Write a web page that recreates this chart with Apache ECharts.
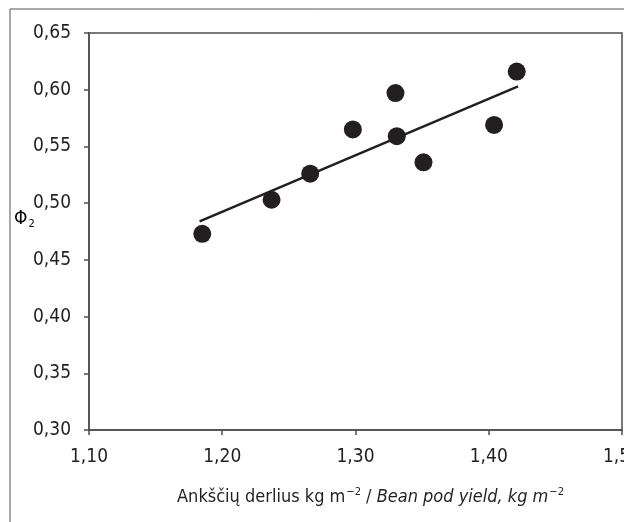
<!DOCTYPE html>
<html>
<head>
<meta charset="utf-8">
<script src="https://cdn.jsdelivr.net/npm/echarts@6/dist/echarts.min.js"></script>
<style>
  html, body { margin: 0; padding: 0; background: #fff; }
  #chart { width: 624px; height: 522px; }
</style>
</head>
<body>
<div id="chart"></div>
<script>
// pod yield (x) vs Phi2 (y)
let yieldVals = [1.185, 1.237, 1.266, 1.298, 1.330, 1.331, 1.351, 1.404, 1.421];
let phiVals   = [0.473, 0.503, 0.526, 0.565, 0.597, 0.559, 0.536, 0.569, 0.616];

// trend line ends
let trendX = [1.183, 1.422];
let trendY = [0.484, 0.603];

let ink = '#231f20';
let axisCol = '#4d4d4d';
let font = '"Liberation Sans Narrow", "DejaVu Sans Condensed", sans-serif';

function comma(v){
    return v.toFixed(2).replace('.', ',');
}

let chart = echarts.init(document.getElementById('chart'));
let option = {
    animation: false,
    textStyle: { fontFamily: font, color: ink },
    grid: {
        left: 89,
        right: 2,
        top: 33,
        bottom: 92,
        outerBoundsMode: 'none',
        containLabel: false,
        show: true,
        borderColor: axisCol,
        borderWidth: 1.5
    },
    graphic: [
        {
            type: 'rect',
            shape: { x: 10, y: 9, width: 700, height: 600 },
            style: { fill: 'none', stroke: '#555', lineWidth: 1 },
            silent: true
        },
        {
            type: 'text',
            left: 14,
            top: 210,
            style: {
                text: '{p|Φ}{s|2}',
                rich: {
                    p: { fontFamily: font, fontSize: 19, color: ink },
                    s: { fontFamily: font, fontSize: 11, color: ink, padding: [10, 0, 0, 1] }
                }
            }
        }
    ],
    xAxis: {
        type: 'value',
        min: 1.1,
        max: 1.5,
        interval: 0.1,
        splitLine: { show: false },
        axisLine: { lineStyle: { color: axisCol, width: 1.5 } },
        axisTick: { show: true, length: 5, lineStyle: { color: axisCol, width: 1.5 } },
        axisLabel: {
            fontSize: 19,
            color: ink,
            margin: 18,
            showMaxLabel: true,
            formatter: comma
        },
        name: '{a|Ankščių derlius kg m}{sup|−2}{a| / }{i|Bean pod yield, kg m}{sup|−2}',
        nameLocation: 'middle',
        nameGap: 57,
        nameTextStyle: {
            padding: [0, 0, 0, 30],
            rich: {
                a: { fontFamily: font, fontSize: 18, color: ink },
                i: { fontFamily: font, fontSize: 18, color: ink, fontStyle: 'italic' },
                sup: { fontFamily: font, fontSize: 11, color: ink, padding: [0, 0, 10, 1] }
            }
        }
    },
    yAxis: {
        type: 'value',
        min: 0.3,
        max: 0.65,
        interval: 0.05,
        splitLine: { show: false },
        axisLine: { show: true, lineStyle: { color: axisCol, width: 1.5 } },
        axisTick: { show: true, length: 5, lineStyle: { color: axisCol, width: 1.5 } },
        axisLabel: {
            fontSize: 19,
            color: ink,
            margin: 18,
            formatter: comma
        }
    },
    series: [
        {
            type: 'line',
            data: trendX.map((x, i) => [x, trendY[i]]),
            showSymbol: false,
            lineStyle: { color: ink, width: 2.5 },
            z: 2
        },
        {
            type: 'scatter',
            data: yieldVals.map((x, i) => [x, phiVals[i]]),
            symbol: 'circle',
            symbolSize: 18,
            itemStyle: { color: ink, opacity: 1 },
            z: 3
        }
    ]
};
chart.setOption(option);
</script>
</body>
</html>
